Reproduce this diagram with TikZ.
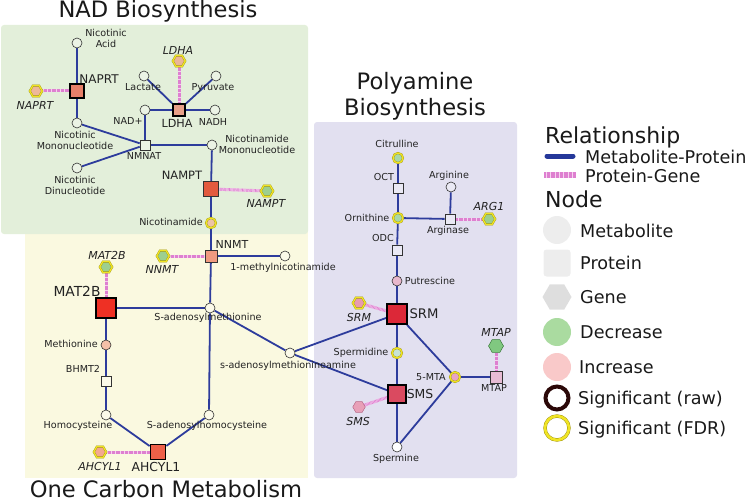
\documentclass[tikz,border=0pt]{standalone}
\usepackage{fontspec}
\setmainfont{DejaVu Sans}
\usetikzlibrary{shapes.geometric}
\definecolor{bggreen}{HTML}{E3EFDA}
\definecolor{bgyellow}{HTML}{FAF9E0}
\definecolor{bgpurple}{HTML}{E2E0F0}
\definecolor{edgeblue}{HTML}{2D3C9C}
\definecolor{legblue}{HTML}{25389A}
\definecolor{gpink}{HTML}{DE80D0}
\definecolor{gpinklight}{HTML}{F6D2F0}
\definecolor{fdrout}{HTML}{9A9010}
\definecolor{fdryel}{HTML}{F0E424}
\definecolor{txt}{HTML}{222222}
\definecolor{gengreen}{HTML}{9DCF8F}
\definecolor{cNaprt}{HTML}{E8806A}
\definecolor{cNaprtG}{HTML}{EEB89A}
\definecolor{cLdha}{HTML}{E8A088}
\definecolor{cLdhaG}{HTML}{EBB598}
\definecolor{cNampt}{HTML}{E25A3E}
\definecolor{cNam}{HTML}{EDC3A6}
\definecolor{cNnmt}{HTML}{F09A80}
\definecolor{cMat}{HTML}{EE3024}
\definecolor{cMeth}{HTML}{F5C0A8}
\definecolor{cAhc}{HTML}{EE6048}
\definecolor{cAhcG}{HTML}{F4A890}
\definecolor{cDecM}{HTML}{A8D8A8}
\definecolor{cPut}{HTML}{E8B8CC}
\definecolor{cSrm}{HTML}{DC2838}
\definecolor{cSrmG}{HTML}{E89AB0}
\definecolor{cSpd}{HTML}{C8E4D4}
\definecolor{cSms}{HTML}{DA4A60}
\definecolor{cSmsG}{HTML}{E8A0B8}
\definecolor{cSmsGb}{HTML}{B86A88}
\definecolor{cMta}{HTML}{E8A4C4}
\definecolor{cMtap}{HTML}{E8BCD4}
\definecolor{cMtapG}{HTML}{80C880}
\definecolor{cMtapGb}{HTML}{3C7A3C}
\definecolor{lgA}{HTML}{EDEDED}
\definecolor{lgB}{HTML}{DEDEDE}
\definecolor{lgDec}{HTML}{AADBA0}
\definecolor{lgInc}{HTML}{F9C9C9}
\definecolor{lgRaw}{HTML}{2B0808}
\pgfdeclarelayer{bg}
\pgfdeclarelayer{edges}
\pgfsetlayers{bg,edges,main}
\tikzset{
  met/.style={circle, draw=black!80, line width=0.6pt, fill=white, fill opacity=0.3, minimum size=10pt, inner sep=0pt},
  prot/.style={rectangle, draw=black!80, line width=0.6pt, fill=white, fill opacity=0.3, minimum size=#1, inner sep=0pt},
  prot/.default=10pt,
  cf/.style={fill=#1, fill opacity=1},
  raw/.style={draw=black, line width=1.8pt},
  gene/.style={regular polygon, regular polygon sides=6, minimum size=12.5pt, inner sep=0pt, draw=black!60, line width=0.5pt, fill=#1},
  fdr/.style={draw=fdrout, double=fdryel, double distance=1.3pt, line width=0.35pt},
  mp/.style={draw=edgeblue, line width=1.8pt},
  pg/.style={draw=gpink, line width=3pt, dash pattern=on 0.6pt off 0.7pt, preaction={draw=gpinklight, line width=3pt, solid}},
  lbl/.style={font=\fontsize{9.6}{11}\selectfont, inner sep=0pt, text=txt, align=center},
  gl/.style={font=\fontsize{11}{13}\selectfont\itshape, inner sep=0pt, text=txt},
  pl/.style={font=\fontsize{#1}{#1}\selectfont, inner sep=0pt, text=txt},
  ttl/.style={font=\fontsize{22.6}{26}\selectfont, inner sep=0pt, text=black!90, align=center},
  lgt/.style={font=\fontsize{17.6}{20}\selectfont, inner sep=0pt, text=black!90, anchor=base west},
  lgh/.style={font=\fontsize{22}{26}\selectfont, inner sep=0pt, text=black!90, anchor=base west},
}
\begin{document}
\begin{tikzpicture}[x=1pt,y=-1pt]
\useasboundingbox (0,0) rectangle (750,503);
\begin{pgfonlayer}{bg}
\fill[bgyellow] (25,225) rectangle (308,478);
\fill[bggreen, rounded corners=3pt] (1,25) rectangle (308,234);
\fill[bgpurple, rounded corners=3pt] (314,122) rectangle (517,478);
\end{pgfonlayer}

% titles
\node[ttl, anchor=base] (t-nad) at (158,18) {NAD Biosynthesis};
\node[ttl] (t-poly) at (415,96) {Polyamine\\Biosynthesis};
\node[ttl, anchor=base] (t-oc) at (166,497) {One Carbon Metabolism};

% NAD nodes
\node[met] (nicacid) at (77,43) {};
\node[prot=14pt, cf=cNaprt, raw] (naprt) at (77,91) {};
\node[gene=cNaprtG, fdr] (naprtg) at (36,91) {};
\node[met] (nicmono) at (77,123) {};
\node[prot] (nmnat) at (145,145) {};
\node[met] (nicdinuc) at (77,168) {};
\node[met] (nadp) at (145,110) {};
\node[prot=12pt, cf=cLdha, raw] (ldha) at (179,110) {};
\node[met] (lactate) at (144,76) {};
\node[met] (pyruvate) at (216,76) {};
\node[met] (nadh) at (215,110) {};
\node[gene=cLdhaG, fdr] (ldhag) at (179,61) {};
\node[met] (namn) at (212,145) {};
\node[prot=15pt, cf=cNampt] (nampt) at (211,189) {};
\node[gene=gengreen, fdr] (namptg) at (267,191) {};
\node[met, cf=cNam, fdr] (nam) at (211,223) {};

% One carbon nodes
\node[prot=12pt, cf=cNnmt] (nnmt) at (211,256) {};
\node[gene=gengreen, fdr] (nnmtg) at (163,256) {};
\node[met] (mnam) at (285,256) {};
\node[prot=20pt, cf=cMat, raw] (mat2b) at (106,308) {};
\node[gene=gengreen, fdr] (mat2bg) at (106,267) {};
\node[met] (sam) at (210,308) {};
\node[met, cf=cMeth] (meth) at (106,345) {};
\node[prot] (bhmt2) at (106,381) {};
\node[met] (hcy) at (106,415) {};
\node[met] (sah) at (209,415) {};
\node[prot=15pt, cf=cAhc, raw] (ahcyl1) at (158,452) {};
\node[gene=cAhcG, fdr] (ahcyl1g) at (100,452) {};
\node[met] (samine) at (290,353) {};

% Polyamine nodes
\node[met, cf=cDecM, fdr] (cit) at (398,158) {};
\node[prot] (oct) at (398,188) {};
\node[met, cf=cDecM, fdr] (orn) at (398,218) {};
\node[met] (arg) at (451,187) {};
\node[prot] (argase) at (450,219) {};
\node[gene=gengreen, fdr] (arg1) at (489,219) {};
\node[prot] (odc) at (397,250) {};
\node[met, cf=cPut] (put) at (397,281) {};
\node[prot=20pt, cf=cSrm, raw] (srm) at (397,314) {};
\node[gene=cSrmG, fdr] (srmg) at (359,303) {};
\node[met, cf=cSpd, fdr] (spd) at (397,353) {};
\node[prot=18pt, cf=cSms, raw] (sms) at (397,394) {};
\node[gene=cSmsG, draw=cSmsGb] (smsg) at (359,407) {};
\node[met, cf=white] (spm) at (397,447) {};
\node[met, cf=cMta, fdr] (mta) at (455,377) {};
\node[prot=12pt, cf=cMtap] (mtap) at (496,377) {};
\node[gene=cMtapG, draw=cMtapGb, minimum size=15pt] (mtapg) at (496,346) {};

% labels NAD
\node[lbl] (l-nicacid) at (106,38) {Nicotinic\\Acid};
\node[pl=12] (l-naprt) at (99,79) {NAPRT};
\node[gl] (l-naprtg) at (35,105) {NAPRT};
\node[lbl] (l-nicmono) at (75,140) {Nicotinic\\Mononucleotide};
\node[lbl] (l-nmnat) at (144,156) {NMNAT};
\node[lbl] (l-nicdinuc) at (75,185) {Nicotinic\\Dinucleotide};
\node[lbl] (l-nadp) at (128,121) {NAD+};
\node[pl=11.2] (l-ldha) at (177,123) {LDHA};
\node[lbl] (l-lactate) at (143,87) {Lactate};
\node[lbl] (l-pyruvate) at (213,88) {Pyruvate};
\node[lbl] (l-nadh) at (213,122) {NADH};
\node[gl] (l-ldhag) at (178,50) {LDHA};
\node[lbl] (l-namn) at (257,144) {Nicotinamide\\Mononucleotide};
\node[pl=11.5] (l-nampt) at (182,175) {NAMPT};
\node[gl] (l-namptg) at (266,203) {NAMPT};
\node[lbl] (l-nam) at (171,222) {Nicotinamide};

% labels one carbon
\node[pl=11] (l-nnmt) at (232,244) {NNMT};
\node[gl] (l-nnmtg) at (162,269) {NNMT};
\node[lbl] (l-mnam) at (283,268) {1-methylnicotinamide};
\node[pl=13.8] (l-mat2b) at (77,291) {MAT2B};
\node[gl] (l-mat2bg) at (107,255) {MAT2B};
\node[lbl] (l-sam) at (208,318) {S-adenosylmethionine};
\node[lbl] (l-meth) at (71,344) {Methionine};
\node[lbl] (l-bhmt2) at (83,369) {BHMT2};
\node[lbl] (l-hcy) at (78,426) {Homocysteine};
\node[lbl] (l-sah) at (207,426) {S-adenosylhomocysteine};
\node[pl=12.4] (l-ahcyl1) at (156,467) {AHCYL1};
\node[gl] (l-ahcyl1g) at (100,466) {AHCYL1};
\node[lbl] (l-samine) at (288,366) {s-adenosylmethionineamine};

% labels polyamine
\node[lbl] (l-cit) at (397,144) {Citrulline};
\node[lbl] (l-oct) at (384,177) {OCT};
\node[lbl] (l-orn) at (367,218) {Ornithine};
\node[lbl] (l-arg) at (449,176) {Arginine};
\node[lbl] (l-argase) at (448,231) {Arginase};
\node[gl] (l-arg1) at (489,206) {ARG1};
\node[lbl] (l-odc) at (383,238) {ODC};
\node[lbl] (l-put) at (430,281) {Putrescine};
\node[pl=13.2] (l-srm) at (424,314) {SRM};
\node[gl] (l-srmg) at (359,317) {SRM};
\node[lbl] (l-spd) at (361,353) {Spermidine};
\node[pl=12.4] (l-sms) at (420,394) {SMS};
\node[gl] (l-smsg) at (358,421) {SMS};
\node[lbl] (l-spm) at (396,459) {Spermine};
\node[lbl] (l-mta) at (431,377) {5-MTA};
\node[lbl] (l-mtap) at (494,388) {MTAP};
\node[gl] (l-mtapg) at (496,332) {MTAP};

% edges
\begin{pgfonlayer}{edges}
\draw[mp] (nicacid) -- (naprt);
\draw[mp] (naprt) -- (nicmono);
\draw[mp] (nicmono) -- (nmnat);
\draw[mp] (nicdinuc) -- (nmnat);
\draw[mp] (nadp) -- (nmnat);
\draw[mp] (nadp) -- (ldha);
\draw[mp] (ldha) -- (lactate);
\draw[mp] (ldha) -- (pyruvate);
\draw[mp] (ldha) -- (nadh);
\draw[mp] (nmnat) -- (namn);
\draw[mp] (namn) -- (nampt);
\draw[mp] (nampt) -- (nam);
\draw[mp] (nam) -- (nnmt);
\draw[mp] (nnmt) -- (mnam);
\draw[mp] (nnmt) -- (sam);
\draw[mp] (mat2b) -- (sam);
\draw[mp] (mat2b) -- (meth);
\draw[mp] (meth) -- (bhmt2);
\draw[mp] (bhmt2) -- (hcy);
\draw[mp] (hcy) -- (ahcyl1);
\draw[mp] (ahcyl1) -- (sah);
\draw[mp] (sah) -- (sam);
\draw[mp] (sam) -- (samine);
\draw[mp] (samine) -- (srm);
\draw[mp] (samine) -- (sms);
\draw[mp] (cit) -- (oct);
\draw[mp] (oct) -- (orn);
\draw[mp] (orn) -- (odc);
\draw[mp] (orn) -- (argase);
\draw[mp] (arg) -- (argase);
\draw[mp] (odc) -- (put);
\draw[mp] (put) -- (srm);
\draw[mp] (srm) -- (spd);
\draw[mp] (spd) -- (sms);
\draw[mp] (sms) -- (spm);
\draw[mp] (srm) -- (mta);
\draw[mp] (spm) -- (mta);
\draw[mp] (mta) -- (mtap);
\draw[pg] (naprtg) -- (naprt);
\draw[pg] (ldhag) -- (ldha);
\draw[pg] (nampt) -- (namptg);
\draw[pg] (nnmtg) -- (nnmt);
\draw[pg] (mat2bg) -- (mat2b);
\draw[pg] (ahcyl1g) -- (ahcyl1);
\draw[pg] (arg1) -- (argase);
\draw[pg] (srmg) -- (srm);
\draw[pg] (smsg) -- (sms);
\draw[pg] (mtapg) -- (mtap);
\end{pgfonlayer}

% legend
\node[lgh] (lg-rel) at (545,143) {Relationship};
\coordinate (lgmpA) at (547,156);
\coordinate (lgmpB) at (573,156);
\draw[draw=legblue, line width=5pt, line cap=round] (lgmpA) -- (lgmpB);
\node[lgt] (lg-mp) at (585,163) {Metabolite-Protein};
\coordinate (lgpgA) at (544,175);
\coordinate (lgpgB) at (576,175);
\draw[pg, line width=6pt, preaction={draw=gpinklight, line width=6pt, solid}] (lgpgA) -- (lgpgB);
\node[lgt] (lg-pg) at (585,182) {Protein-Gene};
\node[lgh] (lg-node) at (545,207) {Node};
\node[circle, fill=lgA, minimum size=28pt, inner sep=0pt] (lgmet) at (557,230) {};
\node[lgt] (lg-met) at (580,237) {Metabolite};
\node[rectangle, rounded corners=3pt, fill=lgA, minimum size=27pt, inner sep=0pt] (lgprot) at (557,263) {};
\node[lgt] (lg-prot) at (580,269) {Protein};
\node[regular polygon, regular polygon sides=6, fill=lgB, minimum size=29pt, inner sep=0pt] (lggene) at (557,297) {};
\node[lgt] (lg-gene) at (580,303) {Gene};
\node[circle, fill=lgDec, minimum size=28pt, inner sep=0pt] (lgdec) at (557,332) {};
\node[lgt] (lg-dec) at (580,338) {Decrease};
\node[circle, fill=lgInc, minimum size=28pt, inner sep=0pt] (lginc) at (557,367) {};
\node[lgt] (lg-inc) at (579,373) {Increase};
\node[circle, draw=lgRaw, line width=4pt, fill=white, minimum size=23pt, inner sep=0pt] (lgraw) at (557,398) {};
\node[lgt] (lg-raw) at (578,404) {Significant (raw)};
\node[circle, draw=fdrout, double=fdryel, double distance=2.6pt, line width=0.4pt, fill=white, minimum size=24pt, inner sep=0pt] (lgfdr) at (557,428) {};
\node[lgt] (lg-fdr) at (578,434) {Significant (FDR)};
\end{tikzpicture}
\end{document}
